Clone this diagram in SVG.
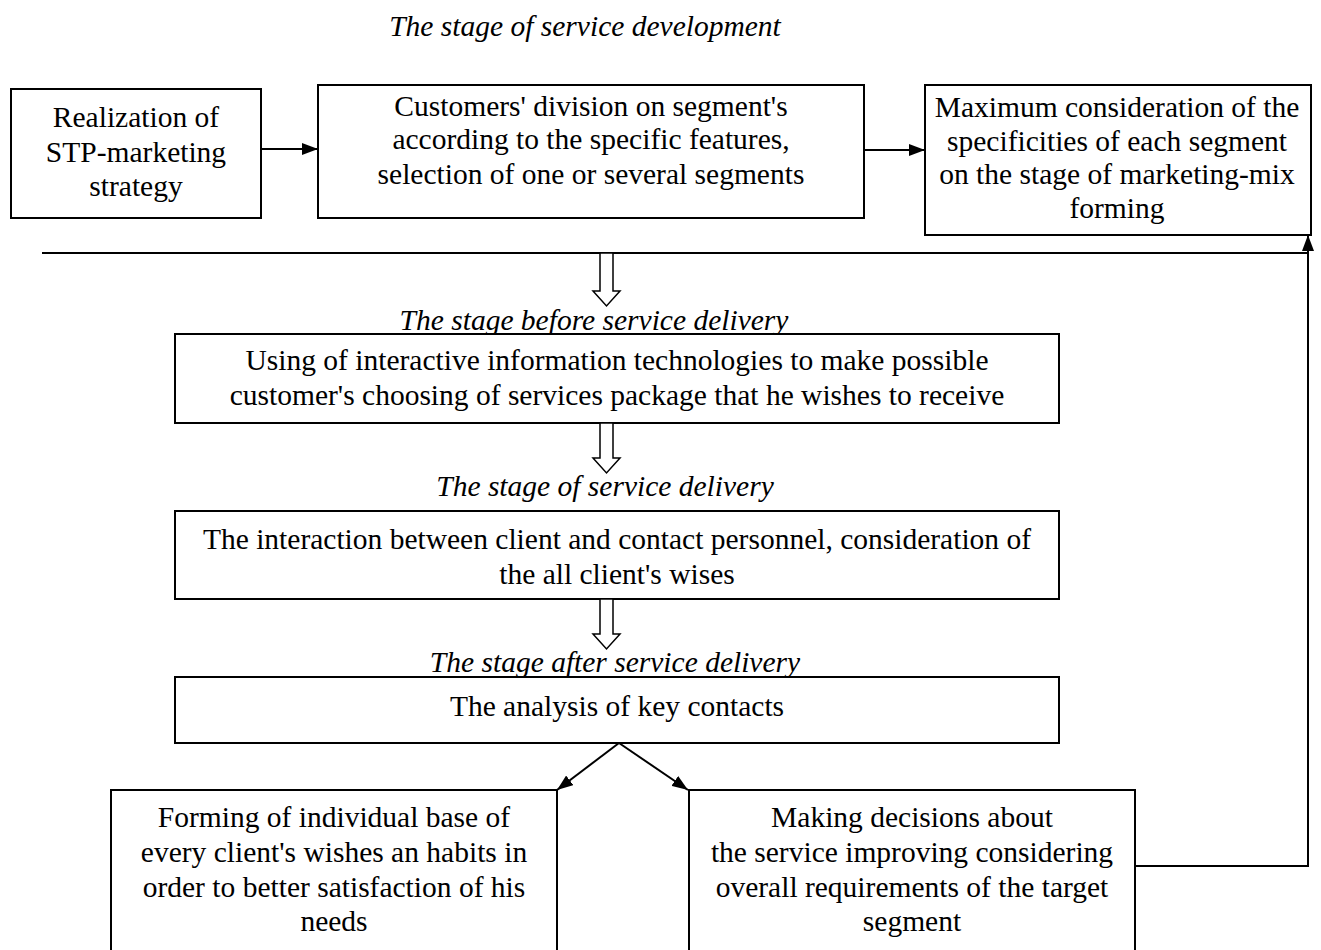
<svg xmlns="http://www.w3.org/2000/svg" width="1321" height="950" viewBox="0 0 1321 950">
<style>
.b{fill:#fff;stroke:#000;stroke-width:2}
.t{font-family:"Liberation Serif","Times New Roman",serif;font-size:29.5px;text-anchor:middle;fill:#000}
.i{font-style:italic}
.c{fill:none;stroke:#000;stroke-width:2}
.h{fill:#fff;stroke:#000;stroke-width:1.5}
</style>
<defs>
<marker id="a" markerWidth="16" markerHeight="12" refX="16" refY="6" orient="auto" markerUnits="userSpaceOnUse" viewBox="0 0 16 12">
<path d="M0,0 L16,6 L0,12 z" fill="#000"/>
</marker>
</defs>
<rect width="1321" height="950" fill="#fff"/>
<text class="t i" x="585" y="36">The stage of service development</text>
<g id="n1"><rect class="b" x="11" y="89" width="250" height="129"/>
<text class="t" x="136" y="127">Realization of</text><text class="t" x="136" y="162">STP-marketing</text><text class="t" x="136" y="196">strategy</text></g>
<g id="n2"><rect class="b" x="318" y="85" width="546" height="133"/>
<text class="t" x="591" y="116">Customers' division on segment's</text><text class="t" x="591" y="149">according to the specific features,</text><text class="t" x="591" y="184">selection of one or several segments</text></g>
<g id="n3"><rect class="b" x="925" y="85" width="386" height="150"/>
<text class="t" x="1117" y="117">Maximum consideration of the</text><text class="t" x="1117" y="151">specificities of each segment</text><text class="t" x="1117" y="184">on the stage of marketing-mix</text><text class="t" x="1117" y="218">forming</text></g>
<g id="n4"><text class="t i" x="594" y="330">The stage before service delivery</text>
<rect class="b" x="175" y="334" width="884" height="89"/>
<text class="t" x="617" y="370">Using of interactive information technologies to make possible</text><text class="t" x="617" y="405">customer's choosing of services package that he wishes to receive</text></g>
<g id="n5"><text class="t i" x="605" y="496">The stage of service delivery</text>
<rect class="b" x="175" y="511" width="884" height="88"/>
<text class="t" x="617" y="549">The interaction between client and contact personnel, consideration of</text><text class="t" x="617" y="584">the all client's wises</text></g>
<g id="n6"><text class="t i" x="615" y="672">The stage after service delivery</text>
<rect class="b" x="175" y="677" width="884" height="66"/>
<text class="t" x="617" y="716">The analysis of key contacts</text></g>
<g id="n7"><rect class="b" x="111" y="790" width="446" height="170"/>
<text class="t" x="334" y="827">Forming of individual base of</text><text class="t" x="334" y="862">every client's wishes an habits in</text><text class="t" x="334" y="897">order to better satisfaction of his</text><text class="t" x="334" y="931">needs</text></g>
<g id="n8"><rect class="b" x="689" y="790" width="446" height="170"/>
<text class="t" x="912" y="827">Making decisions about</text><text class="t" x="912" y="862">the service improving considering</text><text class="t" x="912" y="897">overall requirements of the target</text><text class="t" x="912" y="931">segment</text></g>
<g id="connectors">
<line class="c" x1="261" y1="149" x2="318" y2="149" marker-end="url(#a)"/>
<line class="c" x1="864" y1="150" x2="925" y2="150" marker-end="url(#a)"/>
<line class="c" x1="42" y1="253" x2="1308" y2="253"/>
<path class="h" d="M600,253 V291 H593 L606.5,306 L620,291 H613 V253 Z"/>
<path class="h" d="M600,423 V458 H593 L606.5,473 L620,458 H613 V423 Z"/>
<path class="h" d="M600,599 V634 H593 L606.5,649 L620,634 H613 V599 Z"/>
<line class="c" x1="619" y1="743" x2="557" y2="790" marker-end="url(#a)"/>
<line class="c" x1="619" y1="743" x2="688" y2="790" marker-end="url(#a)"/>
<polyline class="c" points="1135,866 1308,866 1308,235" marker-end="url(#a)"/>
</g>
</svg>
